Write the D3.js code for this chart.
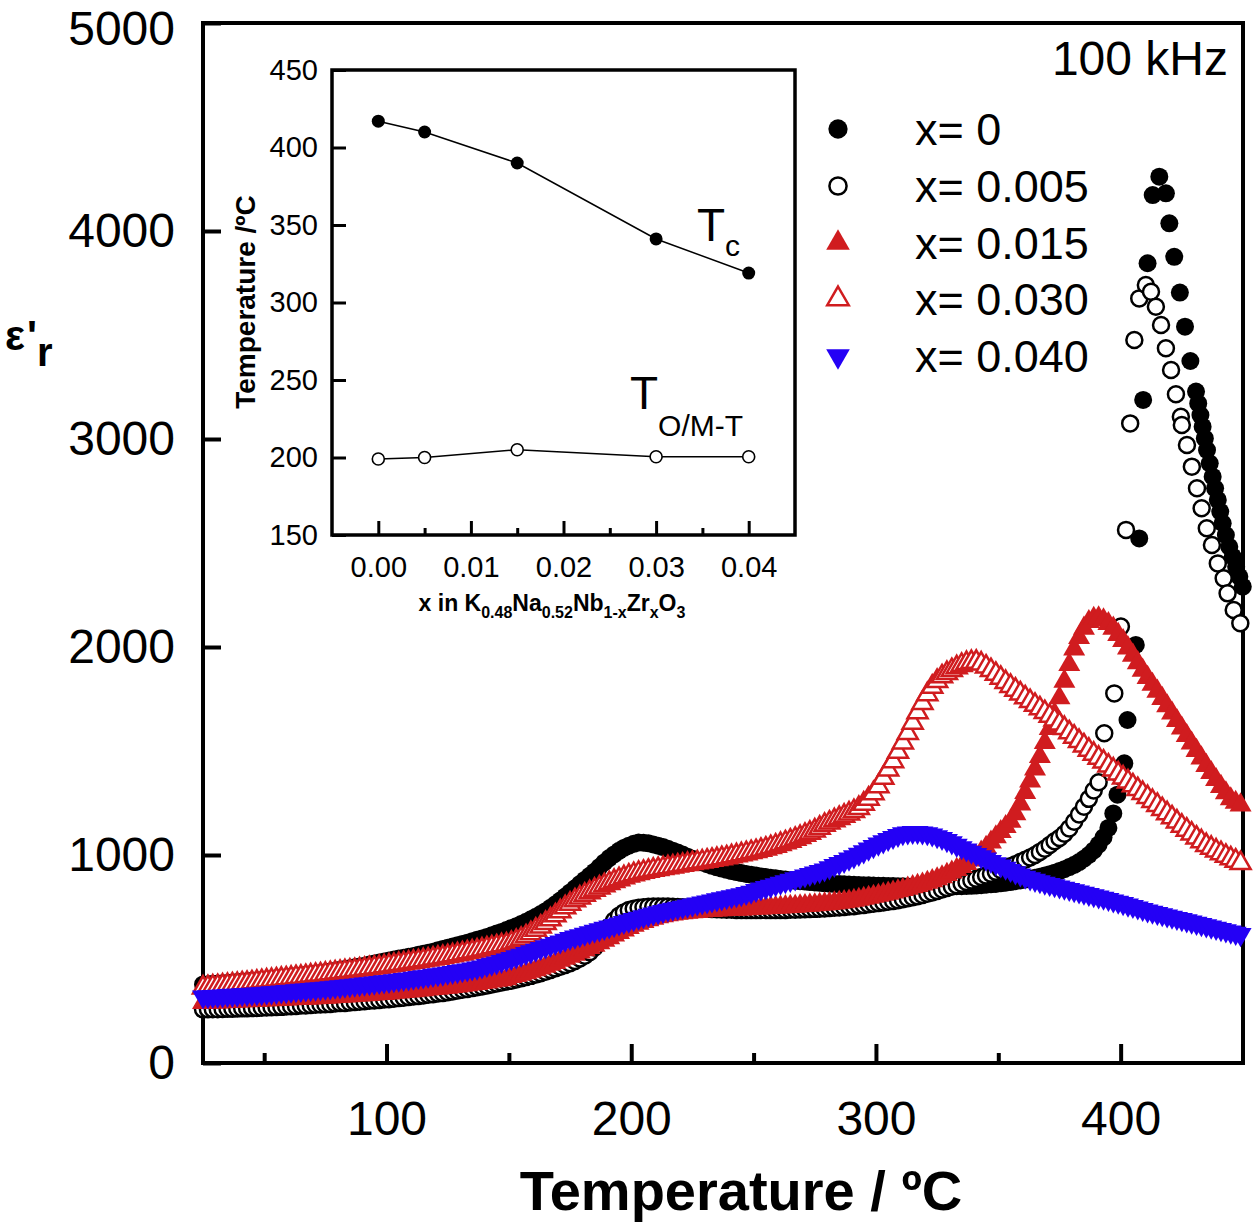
<!DOCTYPE html>
<html>
<head>
<meta charset="utf-8">
<script src="https://cdn.jsdelivr.net/npm/d3@7"></script>
<style>
  body{margin:0;background:#fff;}
  svg{display:block;font-family:"Liberation Sans",Arial,Helvetica,sans-serif;}
</style>
</head>
<body>
<div id="chart"></div>
<script>
// ============== Data ==============
// measurement grid, ºC
var temps = [25,27,29,31,33,35,37,39,41,43,45,47,49,
  51,53,55,57,59,61,63,65,67,69,71,73,75,77,79,81,83,85,87,89,91,93,95,97,99,
  101,103,105,107,109,111,113,115,117,119,121,123,125,127,129,131,133,135,137,139,141,143,145,147,149,
  151,153,155,157,159,161,163,165,167,169,171,173,175,177,179,181,183,185,187,189,191,193,195,197,199,
  201,203,205,207,209,211,213,215,217,219,221,223,225,227,229,231,233,235,237,239,241,243,245,247,249,
  251,253,255,257,259,261,263,265,267,269,271,273,275,277,279,281,283,285,287,289,291,293,295,297,299,
  301,303,305,307,309,311,313,315,317,319,321,323,325,327,329,331,333,335,337,339,341,343,345,347,349,
  351,353,355,357,359,361,363,365,367,369,371,373,375,377,379,381,383,385,387,389,391,393,395,397,399,
  401,403,405,407,409,411,413,415,417,419,421,423,425,427,429,431,433,435,437,439,441,443,445,447,449];

// x = 0 (grid part up to 395 ºC, then the points around Tc)
var eps0 = [378,379,381,382,384,385,387,389,391,393,395,397,399,
  402,404,407,409,412,415,418,421,424,427,430,433,436,440,444,448,452,456,460,464,468,473,478,483,488,
  493,497,502,506,511,515,520,525,530,535,542,548,554,560,566,572,578,585,592,599,606,614,622,630,639,
  648,658,668,679,691,703,716,730,746,763,781,800,820,840,860,880,900,920,942,964,985,1003,1020,1034,1045,
  1054,1060,1059,1056,1051,1045,1038,1030,1021,1012,1002,992,982,972,964,956,948,941,935,929,923,918,913,909,905,
  901,897,894,891,888,885,882,879,876,874,872,870,868,866,864,862,861,860,859,858,857,856,855,854,853,
  852,852,851,851,850,850,849,849,849,848,848,848,848,848,849,849,850,850,851,852,853,855,857,859,861,
  864,867,870,874,878,882,886,891,896,902,908,915,923,932,942,953,966,982,1000,1022,1050,1085,1130];
var tail0T = [397,398.7,400,401.5,402.8,406.2,407.6,409.2,411,413.1,415.8,418.5,419.9,421.9,424.2,426.3,428.5,
  430.8,431.7,432.6,433.5,434.4,435.3,436.4,437.6,438.6,439.7,440.7,441.7,443,444.4,445.8,447.2,448.5,449.9];
var tail0E = [1200,1290,1376,1441,1649,2010,2522,3188,3845,4173,4261,4181,4037,3876,3704,3540,3375,
  3228,3171,3115,3059,3003,2947,2883,2819,2763,2707,2651,2595,2538,2482,2434,2386,2338,2290];

// x = 0.005 (grid part up to 391 ºC)
var eps005 = [258,258,259,259,260,261,261,262,263,263,264,265,266,
  267,268,269,270,272,273,274,276,277,279,280,281,283,284,286,288,289,291,293,295,297,299,301,303,305,
  307,309,312,314,317,320,322,325,328,331,334,337,340,344,348,352,356,360,364,368,372,377,382,387,392,
  396,402,407,413,419,425,432,439,447,455,463,471,480,490,502,516,533,555,585,620,655,685,708,724,735,
  742,746,749,751,752,752,752,752,751,750,749,747,745,744,742,741,740,739,738,737,737,736,736,735,735,
  735,735,735,735,735,736,736,737,737,738,739,740,741,742,743,745,746,748,750,752,754,757,760,763,766,
  769,772,775,779,783,787,792,797,802,808,814,820,827,834,841,848,855,862,870,878,886,894,902,910,919,
  928,937,946,956,966,977,988,1000,1015,1030,1048,1066,1082,1102,1128,1160,1195,1232,1270,1310,1350];
var tail005T = [393.3,397.4,400.1,402.2,403.9,405.6,407.6,410.3,412.4,414.4,416.5,418.5,420.6,422.6,
  424.6,425,427.1,429.1,431.2,433.1,435.2,437.3,439.7,442.1,443.7,446.2,448.9];
var tail005E = [1585,1777,2098,2563,3075,3476,3676,3740,3708,3636,3548,3436,3332,3215,
  3107,3067,2971,2867,2763,2667,2571,2490,2402,2330,2258,2178,2114];

// x = 0.015
var eps015 = [290,291,292,293,294,295,296,297,298,299,300,301,302,
  303,304,305,306,307,308,309,310,311,312,313,314,316,317,319,320,322,323,325,326,328,329,331,333,334,
  336,339,341,343,345,347,350,352,355,357,359,362,364,367,370,373,376,379,382,386,389,393,397,400,404,
  415,420,426,433,440,448,456,465,474,483,493,503,512,522,533,544,555,566,578,590,602,615,627,639,651,
  661,671,680,688,695,702,707,712,716,719,722,724,726,728,730,732,733,735,736,737,738,739,740,741,743,
  744,745,746,747,748,749,751,752,753,755,756,758,760,762,764,766,769,772,775,778,782,786,791,796,801,
  806,811,816,821,827,833,840,847,853,860,868,876,885,895,906,917,930,944,959,975,993,1013,1036,1062,1087,
  1112,1136,1162,1198,1245,1300,1355,1413,1473,1540,1607,1678,1755,1835,1915,1990,2045,2090,2122,2137,2140,2130,2112,2090,2060,
  2030,1995,1960,1924,1888,1853,1820,1787,1752,1717,1682,1646,1610,1574,1538,1502,1466,1430,1396,1362,1329,1298,1270,1253,1240];

// x = 0.030
var eps030 = [362,364,367,369,372,374,377,379,382,384,387,390,393,
  396,398,401,404,406,409,412,414,417,420,423,425,428,431,434,437,440,443,446,449,452,455,458,461,464,
  468,471,475,478,482,486,489,493,497,501,505,509,513,517,522,526,531,535,540,545,550,555,560,565,569,
  577,586,596,608,623,640,655,672,690,709,729,748,765,781,795,808,820,832,843,854,864,874,883,892,900,
  907,913,918,923,928,932,936,940,944,948,952,956,960,964,968,972,976,980,984,988,993,998,1003,1008,1013,
  1018,1024,1030,1037,1044,1052,1060,1068,1077,1086,1096,1106,1117,1130,1144,1155,1166,1177,1188,1199,1210,1225,1246,1270,1296,
  1330,1370,1410,1450,1495,1540,1585,1635,1685,1730,1772,1808,1836,1858,1874,1888,1902,1913,1922,1927,1928,1920,1905,1888,1870,
  1851,1831,1812,1794,1776,1757,1739,1721,1704,1686,1668,1650,1631,1610,1589,1568,1547,1526,1505,1486,1467,1448,1429,1410,1391,
  1372,1353,1334,1316,1297,1278,1259,1240,1220,1200,1180,1160,1140,1121,1102,1083,1065,1047,1034,1021,1008,995,983,972,960];

// x = 0.040
var eps040 = [318,319,321,322,323,325,326,327,329,330,331,333,334,
  336,338,340,342,344,346,348,350,352,354,356,358,360,362,365,367,370,372,375,377,380,382,385,388,391,
  393,396,399,402,405,408,412,415,418,422,425,428,432,436,440,444,448,453,457,462,470,476,482,489,496,
  503,511,519,527,535,543,551,559,567,575,583,591,599,606,613,620,627,634,641,648,655,662,669,676,683,
  690,697,704,711,717,723,729,735,740,745,750,755,760,765,770,775,780,785,790,795,800,805,810,816,822,
  830,837,844,851,858,865,872,879,886,893,900,907,914,921,929,939,950,960,970,981,992,1004,1016,1029,1041,
  1053,1064,1075,1085,1095,1103,1107,1109,1109,1107,1103,1097,1089,1080,1070,1059,1047,1036,1025,1014,1003,992,981,970,959,
  948,937,926,915,905,894,886,879,872,865,859,853,847,841,835,829,823,817,811,805,799,793,787,780,774,
  767,760,753,746,739,732,726,720,714,708,702,696,690,684,678,672,666,660,654,648,642,636,630,624,618];

var seriesLabels = ['x= 0', 'x= 0.005', 'x= 0.015', 'x= 0.030', 'x= 0.040'];

var xTicks = [100, 200, 300, 400];
var xMinorTicks = [50, 150, 250, 350];
var yTicks = [0, 1000, 2000, 3000, 4000, 5000];

// inset: transition temperatures vs Zr content
var insetX = [0, 0.005, 0.015, 0.030, 0.040];
var tcValues = [417, 410, 390, 341, 319];
var tomtValues = [199, 200, 205, 200.5, 200.5];
var insetXTicks = [0, 0.01, 0.02, 0.03, 0.04];
var insetXMinorTicks = [0.005, 0.015, 0.025, 0.035];
var insetYTicks = [150, 200, 250, 300, 350, 400, 450];

// ============== Chart ==============
var config = {
  width: 1258,
  height: 1227,
  plot: {left: 203, right: 1243, top: 23, bottom: 1063},
  inset: {left: 332, right: 795, top: 70, bottom: 535},
  red: '#d01c1f',
  blue: '#2400f5'
};

var svg = d3.select('#chart')
  .append('svg')
  .attr('width', config.width)
  .attr('height', config.height);

var x = d3.scaleLinear().domain([25, 450]).range([config.plot.left, config.plot.right]);
var y = d3.scaleLinear().domain([0, 5000]).range([config.plot.bottom, config.plot.top]);

// Frame
svg.append('rect')
  .attr('x', x(25))
  .attr('y', y(5000))
  .attr('width', x(450) - x(25))
  .attr('height', y(0) - y(5000))
  .attr('fill', 'none')
  .attr('stroke', '#000')
  .attr('stroke-width', 4);

function styleAxis(g, fontSize, lineWidth){
  g.select('.domain').remove();
  g.selectAll('.tick line').attr('stroke', '#000').attr('stroke-width', lineWidth);
  g.selectAll('.tick text')
    .attr('fill', '#000')
    .attr('font-size', fontSize)
    .attr('font-family', '"Liberation Sans", Arial, sans-serif');
}

// X axis
var xAxis = svg.append('g')
  .attr('transform', 'translate(0,' + y(0) + ')')
  .call(d3.axisBottom(x).tickValues(xTicks).tickSize(-19).tickPadding(38).tickFormat(d3.format('d')));
styleAxis(xAxis, 48, 4);

var xMinor = svg.append('g')
  .attr('transform', 'translate(0,' + y(0) + ')')
  .call(d3.axisBottom(x).tickValues(xMinorTicks).tickSize(-10).tickFormat(''));
styleAxis(xMinor, 48, 4);

// Y axis
var yAxis = svg.append('g')
  .attr('transform', 'translate(' + x(25) + ',0)')
  .call(d3.axisLeft(y).tickValues(yTicks).tickSize(-18).tickPadding(28).tickFormat(d3.format('d')));
styleAxis(yAxis, 48, 4);
// keep the top label inside the picture
yAxis.selectAll('.tick text').filter(function(d){ return d === 5000; }).attr('dy', '0.45em');

// Axis titles
svg.append('text')
  .attr('x', 741)
  .attr('y', 1210)
  .attr('text-anchor', 'middle')
  .attr('font-size', 56)
  .attr('font-weight', 'bold')
  .text('Temperature / ºC');

var yTitle = svg.append('text')
  .attr('x', 5)
  .attr('y', 350)
  .attr('font-weight', 'bold');
yTitle.append('tspan').attr('font-size', 42).text('ε');
yTitle.append('tspan').attr('font-size', 42).attr('dx', 2).text('\'');
yTitle.append('tspan').attr('font-size', 40).attr('dy', 16).text('r');

// ============== Series ==============
function gridPoints(vals, tailT, tailE){
  var pts = vals.map(function(v, i){ return [temps[i], v]; });
  if(tailT){
    tailT.forEach(function(t, i){ pts.push([t, tailE[i]]); });
  }
  return pts;
}

var series = [
  gridPoints(eps0, tail0T, tail0E),
  gridPoints(eps005, tail005T, tail005E),
  gridPoints(eps015),
  gridPoints(eps030),
  gridPoints(eps040)
];

var markerStyles = [
  {type: d3.symbolCircle, size: Math.PI * 9 * 9, fill: '#000', stroke: 'none', sw: 0, rot: 0},
  {type: d3.symbolCircle, size: Math.PI * 8 * 8, fill: '#fff', stroke: '#000', sw: 2.5, rot: 0},
  {type: d3.symbolTriangle, size: 210, fill: config.red, stroke: 'none', sw: 0, rot: 0},
  {type: d3.symbolTriangle, size: 175, fill: '#fff', stroke: config.red, sw: 2.5, rot: 0},
  {type: d3.symbolTriangle, size: 210, fill: config.blue, stroke: 'none', sw: 0, rot: 180}
];

var markers = svg.append('g').attr('class', 'markers');

series.forEach(function(pts, si){
  var st = markerStyles[si];
  var sym = d3.symbol().type(st.type).size(st.size);
  markers.append('g')
    .selectAll('path')
    .data(pts)
    .enter()
    .append('path')
    .attr('d', sym)
    .attr('transform', function(d){
      return 'translate(' + x(d[0]) + ',' + y(d[1]) + ')' + (st.rot ? ' rotate(' + st.rot + ')' : '');
    })
    .attr('fill', st.fill)
    .attr('stroke', st.stroke)
    .attr('stroke-width', st.sw);
});

// ============== Legend ==============
var legendRows = [129, 186, 243, 299, 356];
var legend = svg.append('g').attr('class', 'legend');

seriesLabels.forEach(function(label, i){
  var st = markerStyles[i];
  var sym = d3.symbol().type(st.type).size(st.size * 1.15);
  legend.append('path')
    .attr('d', sym)
    .attr('transform', 'translate(838,' + legendRows[i] + ')' + (st.rot ? ' rotate(' + st.rot + ')' : ''))
    .attr('fill', st.fill)
    .attr('stroke', st.stroke)
    .attr('stroke-width', st.sw);
  legend.append('text')
    .attr('x', 915)
    .attr('y', legendRows[i] + 16)
    .attr('font-size', 45)
    .text(label);
});

svg.append('text')
  .attr('x', 1228)
  .attr('y', 75)
  .attr('text-anchor', 'end')
  .attr('font-size', 48)
  .text('100 kHz');

// ============== Inset ==============
var ix = d3.scaleLinear().domain([-0.005, 0.045]).range([config.inset.left, config.inset.right]);
var iy = d3.scaleLinear().domain([150, 450]).range([config.inset.bottom, config.inset.top]);

var inset = svg.append('g').attr('class', 'inset');

inset.append('rect')
  .attr('x', ix(-0.005))
  .attr('y', iy(450))
  .attr('width', ix(0.045) - ix(-0.005))
  .attr('height', iy(150) - iy(450))
  .attr('fill', '#fff')
  .attr('stroke', '#000')
  .attr('stroke-width', 3.5);

var ixAxis = inset.append('g')
  .attr('transform', 'translate(0,' + iy(150) + ')')
  .call(d3.axisBottom(ix).tickValues(insetXTicks).tickSize(-14).tickPadding(21).tickFormat(d3.format('.2f')));
styleAxis(ixAxis, 29, 3);

var ixMinor = inset.append('g')
  .attr('transform', 'translate(0,' + iy(150) + ')')
  .call(d3.axisBottom(ix).tickValues(insetXMinorTicks).tickSize(-7).tickFormat(''));
styleAxis(ixMinor, 29, 3);

var iyAxis = inset.append('g')
  .attr('transform', 'translate(' + ix(-0.005) + ',0)')
  .call(d3.axisLeft(iy).tickValues(insetYTicks).tickSize(-14).tickPadding(14).tickFormat(d3.format('d')));
styleAxis(iyAxis, 29, 3);

// inset titles
inset.append('text')
  .attr('transform', 'translate(255,302) rotate(-90)')
  .attr('text-anchor', 'middle')
  .attr('font-size', 28)
  .attr('font-weight', 'bold')
  .text('Temperature /ºC');

var ixTitle = inset.append('text')
  .attr('x', 552)
  .attr('y', 611)
  .attr('text-anchor', 'middle')
  .attr('font-weight', 'bold')
  .attr('font-size', 23);
var formulaParts = [['x in K', 0], ['0.48', 1], ['Na', 0], ['0.52', 1], ['Nb', 0], ['1-x', 1], ['Zr', 0], ['x', 1], ['O', 0], ['3', 1]];
var prevSub = 0;
formulaParts.forEach(function(p){
  var shift = (p[1] - prevSub) * 7;
  ixTitle.append('tspan')
    .attr('dy', shift)
    .attr('font-size', p[1] ? 16 : 23)
    .text(p[0]);
  prevSub = p[1];
});

// inset lines + markers
var insetLine = d3.line()
  .x(function(d){ return ix(d[0]); })
  .y(function(d){ return iy(d[1]); });

var tcPts = insetX.map(function(v, i){ return [v, tcValues[i]]; });
var tomtPts = insetX.map(function(v, i){ return [v, tomtValues[i]]; });

[tcPts, tomtPts].forEach(function(pts, k){
  inset.append('path')
    .datum(pts)
    .attr('d', insetLine)
    .attr('fill', 'none')
    .attr('stroke', '#000')
    .attr('stroke-width', 1.5);
  inset.append('g')
    .selectAll('circle')
    .data(pts)
    .enter()
    .append('circle')
    .attr('cx', function(d){ return ix(d[0]); })
    .attr('cy', function(d){ return iy(d[1]); })
    .attr('r', k === 0 ? 6.5 : 6)
    .attr('fill', k === 0 ? '#000' : '#fff')
    .attr('stroke', '#000')
    .attr('stroke-width', k === 0 ? 0 : 1.6);
});

var tcLabel = inset.append('text').attr('x', 697).attr('y', 241);
tcLabel.append('tspan').attr('font-size', 46).text('T');
tcLabel.append('tspan').attr('font-size', 30).attr('dy', 15).text('c');

var tomtLabel = inset.append('text').attr('x', 630).attr('y', 409);
tomtLabel.append('tspan').attr('font-size', 46).text('T');
tomtLabel.append('tspan').attr('font-size', 30).attr('dy', 27).text('O/M-T');
</script>
</body>
</html>
